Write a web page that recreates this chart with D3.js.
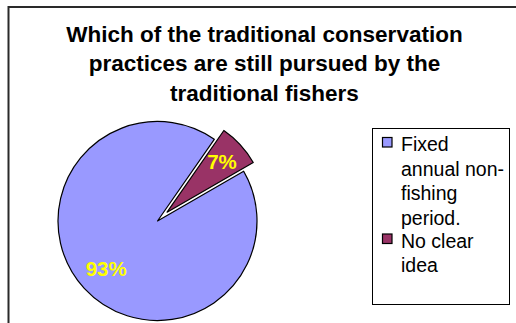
<!DOCTYPE html>
<html>
<head>
<meta charset="utf-8">
<script src="https://cdn.jsdelivr.net/npm/d3@7"></script>
<style>
  html, body { margin: 0; padding: 0; background: #fff; }
  svg { display: block; }
</style>
</head>
<body>
<svg id="chart" width="516" height="323"></svg>
<script>
// Survey answers and their shares (%)
const categories = ["Fixed annual non-fishing period.", "No clear idea"];
const values = [93, 7];
const titleLines = [
  "Which of the traditional conservation",
  "practices are still pursued by the",
  "traditional fishers"
];
const legendLines = [
  ["Fixed", "annual non-", "fishing", "period."],
  ["No clear", "idea"]
];
const colors = ["#9999FF", "#993366"];

const svg = d3.select("#chart");

// Outer chart frame (runs off the right and bottom edges)
svg.append("rect")
  .attr("x", 8.5).attr("y", 7)
  .attr("width", 600).attr("height", 400)
  .attr("fill", "none")
  .attr("stroke", "#2a2a2a")
  .attr("stroke-width", 2);

// Title
const title = svg.append("text")
  .attr("text-anchor", "middle")
  .attr("font-family", "Liberation Sans, Arial, sans-serif")
  .attr("font-weight", "bold")
  .attr("font-size", 22.5)
  .attr("fill", "#000");
titleLines.forEach((t, i) => {
  title.append("tspan").attr("x", 264.5).attr("y", 41.5 + i * 29.5).text(t);
});

// Pie
const cx = 157.5, cy = 221, r = 99.5;
const explode = [0, 13];
const labelFactor = [0.7, 0.75];

const pie = d3.pie().sort(null).startAngle(Math.PI / 3).endAngle(Math.PI / 3 + 2 * Math.PI);
const arcs = pie(values);
const arc = d3.arc().innerRadius(0).outerRadius(r);

const g = svg.append("g").attr("transform", `translate(${cx},${cy})`);

const offset = (d, i) => {
  const a = (d.startAngle + d.endAngle) / 2;
  return [Math.sin(a) * explode[i], -Math.cos(a) * explode[i]];
};

g.selectAll("path.slice")
  .data(arcs)
  .join("path")
  .attr("class", "slice")
  .attr("d", arc)
  .attr("transform", (d, i) => { const o = offset(d, i); return `translate(${o[0]},${o[1]})`; })
  .attr("fill", (d, i) => colors[i])
  .attr("stroke", "#000")
  .attr("stroke-width", 1.2)
  .attr("stroke-linejoin", "round");

g.selectAll("text.pct")
  .data(arcs)
  .join("text")
  .attr("class", "pct")
  .attr("transform", (d, i) => {
    const a = (d.startAngle + d.endAngle) / 2;
    const rr = r * labelFactor[i] + explode[i];
    return `translate(${Math.sin(a) * rr},${-Math.cos(a) * rr})`;
  })
  .attr("text-anchor", "middle")
  .attr("dy", "0.36em")
  .attr("font-family", "Liberation Sans, Arial, sans-serif")
  .attr("font-weight", "bold")
  .attr("font-size", 20.5)
  .attr("fill", "#FFFF00")
  .text(d => d.value + "%");

// Legend
svg.append("rect")
  .attr("x", 372.5).attr("y", 128.5)
  .attr("width", 137).attr("height", 176)
  .attr("fill", "#fff")
  .attr("stroke", "#000")
  .attr("stroke-width", 1);

const lineH = 24.5;
const firstBase = [151, 247.5];
const leg = svg.append("g")
  .attr("font-family", "Liberation Sans, Arial, sans-serif")
  .attr("font-size", 19.5)
  .attr("fill", "#000");

categories.forEach((c, i) => {
  leg.append("rect")
    .attr("x", 382.5).attr("y", firstBase[i] - 13.5)
    .attr("width", 9.5).attr("height", 9.5)
    .attr("fill", colors[i])
    .attr("stroke", "#000")
    .attr("stroke-width", 1.2);
  const t = leg.append("text");
  legendLines[i].forEach((ln, j) => {
    t.append("tspan").attr("x", 401).attr("y", firstBase[i] + j * lineH).text(ln);
  });
});
</script>
</body>
</html>
